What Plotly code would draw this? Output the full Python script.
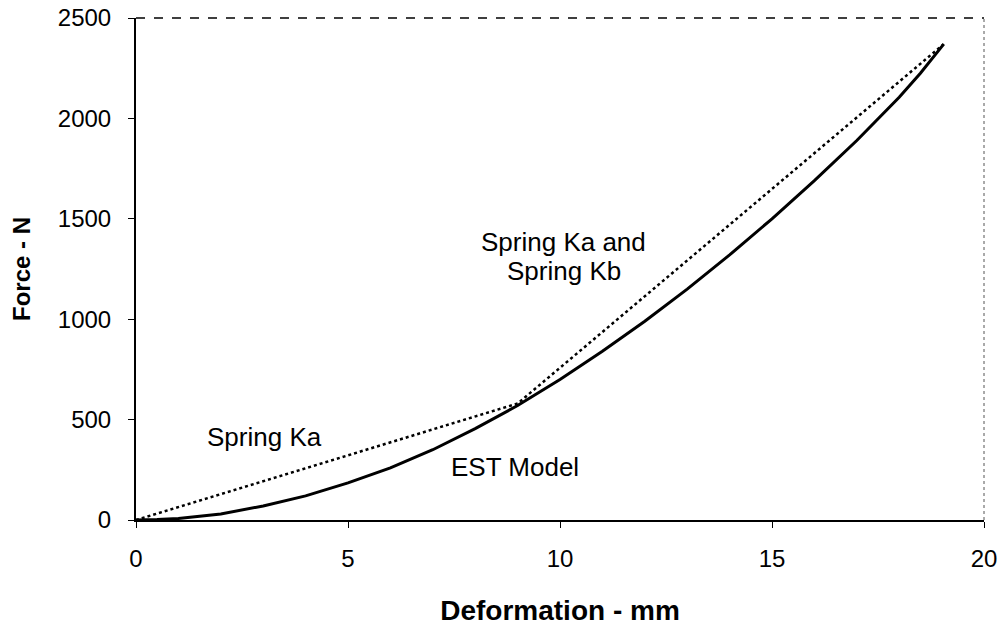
import plotly.graph_objects as go

# EST model (solid curve)
est_x = [0, 0.5, 1, 2, 3, 4, 5, 6, 7, 8, 9, 10, 11, 12, 13, 14, 15, 16, 17, 17.5, 18, 18.5, 19.05]
est_y = [0, 2, 8, 30, 70, 120, 185, 260, 350, 455, 570, 700, 840, 990, 1150, 1320, 1500, 1690, 1890, 1995, 2105, 2225, 2370]

# Spring Ka / Spring Ka and Kb (dotted piecewise line)
spring_x = [0, 9, 19.05]
spring_y = [0, 580, 2370]

labels = ["Spring Ka", "EST Model", "Spring Ka and", "Spring Kb"]
label_x = [3.04, 8.94, 10.09, 10.09]
label_y = [415, 262, 1385, 1238]

font = "Liberation Sans, Arial, sans-serif"

fig = go.Figure()
fig.add_trace(go.Scatter(x=spring_x, y=spring_y, mode="lines",
                         line=dict(color="black", width=2.5, dash="dot"), showlegend=False))
fig.add_trace(go.Scatter(x=est_x, y=est_y, mode="lines",
                         line=dict(color="black", width=3), showlegend=False))

for t, x, y in zip(labels, label_x, label_y):
    fig.add_annotation(x=x, y=y, text=t, showarrow=False, xref="x", yref="y",
                       font=dict(family=font, size=26, color="black"))

# top dashed and right dotted frame lines
fig.add_shape(type="line", xref="paper", yref="paper", x0=0, x1=1, y0=1, y1=1,
              line=dict(color="black", width=1.5, dash="dash"))
fig.add_shape(type="line", xref="paper", yref="paper", x0=1, x1=1, y0=0, y1=1,
              line=dict(color="#555555", width=1, dash="dot"))

fig.update_layout(
    width=1000, height=626,
    margin=dict(l=136, r=16, t=18, b=106),
    plot_bgcolor="white", paper_bgcolor="white",
    font=dict(family=font, size=24, color="black"),
    xaxis=dict(range=[0, 20], tickvals=[0, 5, 10, 15, 20], showgrid=False, zeroline=False,
               showline=True, linecolor="black", linewidth=2, ticks="outside", ticklen=6,
               tickcolor="black", ticklabelstandoff=10, automargin=False,
               ticklabeloverflow="allow",
               title=dict(text="<b>Deformation - mm</b>", font=dict(size=28), standoff=34)),
    yaxis=dict(range=[0, 2500], tickvals=[0, 500, 1000, 1500, 2000, 2500], showgrid=False,
               zeroline=False, showline=True, linecolor="black", linewidth=2, ticks="outside",
               ticklen=6, tickcolor="black", ticklabelstandoff=12, automargin=False,
               ticklabeloverflow="allow",
               title=dict(text="<b>Force - N</b>", font=dict(size=24), standoff=20)),
)

fig.write_html("out.html", config={"displayModeBar": False},
               post_script="document.body.style.margin='0';")
